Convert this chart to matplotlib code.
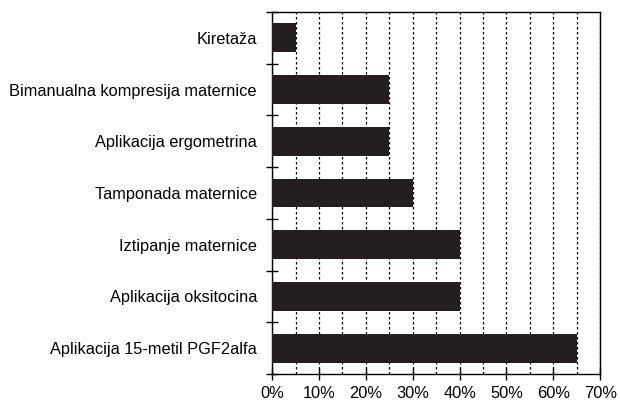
import numpy as np
import matplotlib.pyplot as plt
from matplotlib.ticker import MultipleLocator, FuncFormatter

plt.rcParams['font.family'] = ['Liberation Sans', 'DejaVu Sans']

categories = ['Kiretaža', 'Bimanualna kompresija maternice', 'Aplikacija ergometrina',
              'Tamponada maternice', 'Iztipanje maternice', 'Aplikacija oksitocina',
              'Aplikacija 15-metil PGF2alfa']
values = [5, 25, 25, 30, 40, 40, 65]

fig, ax = plt.subplots(figsize=(6.2, 4), dpi=100)
fig.subplots_adjust(left=0.439, right=0.968, top=0.97, bottom=0.065)

y = np.arange(len(categories))
ax.barh(y, values, height=0.56, color='#231f20', zorder=3)

ax.set_xlim(0, 70)
ax.set_ylim(len(categories) - 0.5, -0.5)
ax.set_yticks(y)
ax.set_yticklabels(categories, fontsize=11.8)
ax.yaxis.set_minor_locator(MultipleLocator(1, offset=0.5))
ax.tick_params(axis='y', which='major', length=0, pad=11)
ax.tick_params(axis='y', which='minor', direction='inout', length=8, width=1)

ax.xaxis.set_major_locator(MultipleLocator(10))
ax.xaxis.set_minor_locator(MultipleLocator(5))
ax.xaxis.set_major_formatter(FuncFormatter(lambda v, p: f'{v:.0f}%'))
ax.tick_params(axis='x', which='major', direction='inout', length=8, width=1, labelsize=11.8, pad=5)
ax.tick_params(axis='x', which='minor', length=0)
ax.grid(axis='x', which='both', linestyle=(0, (2, 2)), color='black', linewidth=0.9, zorder=0)

for s in ax.spines.values():
    s.set_linewidth(1.0)

plt.savefig('out.png', dpi=100)
